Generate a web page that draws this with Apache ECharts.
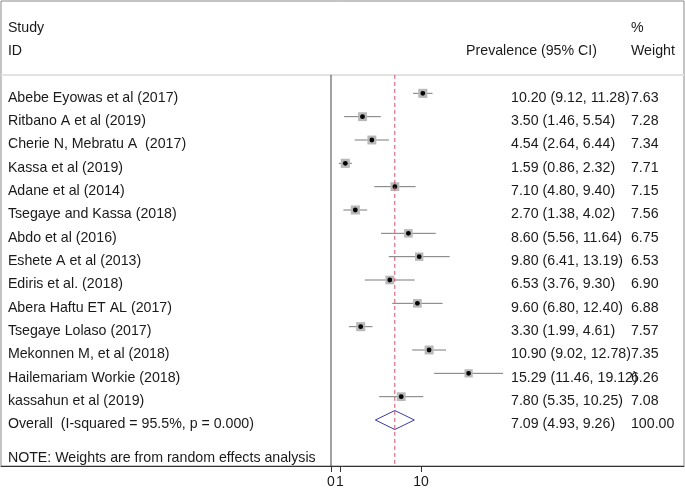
<!DOCTYPE html>
<html><head><meta charset="utf-8">
<script src="https://cdn.jsdelivr.net/npm/echarts@6/dist/echarts.min.js"></script>
<style>html,body{margin:0;padding:0;background:#fff}#c{width:685px;height:491px}</style>
</head><body><div id="c"></div>
<script>
// ---- data ----
const studies = [
  'Abebe Eyowas et al (2017)',
  'Ritbano A et al (2019)',
  'Cherie N, Mebratu A  (2017)',
  'Kassa et al (2019)',
  'Adane et al (2014)',
  'Tsegaye and Kassa (2018)',
  'Abdo et al (2016)',
  'Eshete A et al (2013)',
  'Ediris et al. (2018)',
  'Abera Haftu ET AL (2017)',
  'Tsegaye Lolaso (2017)',
  'Mekonnen M, et al (2018)',
  'Hailemariam Workie (2018)',
  'kassahun et al (2019)'
];
const estimates = [10.20, 3.50, 4.54, 1.59, 7.10, 2.70, 8.60, 9.80, 6.53, 9.60, 3.30, 10.90, 15.29, 7.80];
const lowerCI   = [9.12, 1.46, 2.64, 0.86, 4.80, 1.38, 5.56, 6.41, 3.76, 6.80, 1.99, 9.02, 11.46, 5.35];
const upperCI   = [11.28, 5.54, 6.44, 2.32, 9.40, 4.02, 11.64, 13.19, 9.30, 12.40, 4.61, 12.78, 19.12, 10.25];
const weights   = [7.63, 7.28, 7.34, 7.71, 7.15, 7.56, 6.75, 6.53, 6.90, 6.88, 7.57, 7.35, 6.26, 7.08];
const overallLabel = 'Overall  (I-squared = 95.5%, p = 0.000)';
const overallEst = 7.09, overallLower = 4.93, overallUpper = 9.26, overallWeight = 100.00;
const xTickValues = [0, 1, 10];
const headerStudy = ['Study', 'ID'];
const headerCI = 'Prevalence (95% CI)';
const headerWeight = ['%', 'Weight'];
const noteText = 'NOTE: Weights are from random effects analysis';

// ---- layout constants (style) ----
const FAMILY = '"Liberation Sans", Arial, Helvetica, sans-serif';
const FONT = '14.2px ' + FAMILY;
const TXT = '#1a1a1a';
const XMIN = -36.667, XMAX = 39.222;
const YMIN = -3.957, YMAX = 15.971;
const COL_STUDY = -35.9, COL_CI = 20.0, COL_W = 33.33, COL_CI_HEAD_RIGHT = 29.55;
const HEAD_LINE_Y = -0.79;
const TEXT_DY = 4.5;

const fmt = v => v.toFixed(2);
const texts = [];
texts.push({x: COL_STUDY, y: -3, t: headerStudy[0], a: 'left'});
texts.push({x: COL_STUDY, y: -2, t: headerStudy[1], a: 'left'});
texts.push({x: COL_CI_HEAD_RIGHT, y: -2, t: headerCI, a: 'right'});
texts.push({x: COL_W, y: -3, t: headerWeight[0], a: 'left'});
texts.push({x: COL_W, y: -2, t: headerWeight[1], a: 'left'});
studies.forEach((s, i) => {
  texts.push({x: COL_STUDY, y: i, t: s, a: 'left'});
  texts.push({x: COL_CI, y: i, t: fmt(estimates[i]) + ' (' + fmt(lowerCI[i]) + ', ' + fmt(upperCI[i]) + ')', a: 'left'});
  texts.push({x: COL_W, y: i, t: fmt(weights[i]), a: 'left'});
});
const ov = studies.length;
texts.push({x: COL_STUDY, y: ov, t: overallLabel, a: 'left'});
texts.push({x: COL_CI, y: ov, t: fmt(overallEst) + ' (' + fmt(overallLower) + ', ' + fmt(overallUpper) + ')', a: 'left'});
texts.push({x: COL_W, y: ov, t: fmt(overallWeight), a: 'left'});
texts.push({x: COL_STUDY, y: 15.45, t: noteText, a: 'left'});

const chart = echarts.init(document.getElementById('c'));
chart.setOption({
  animation: false,
  grid: {left: 1, right: 1, top: 1, bottom: 25, show: true, borderColor: '#888', borderWidth: 1, containLabel: false},
  xAxis: {
    type: 'value', min: XMIN, max: XMAX,
    splitLine: {show: false},
    axisLine: {show: true, onZero: false, lineStyle: {color: '#333', width: 1}},
    axisTick: {show: true, customValues: xTickValues, length: 6, lineStyle: {color: '#333'}},
    axisLabel: {show: true, customValues: xTickValues, color: TXT, fontSize: 14, fontFamily: FAMILY, margin: 9, hideOverlap: false, formatter: v => String(v)}
  },
  yAxis: {type: 'value', inverse: true, min: YMIN, max: YMAX, show: false, splitLine: {show: false}},
  series: [
    { // header separator
      type: 'line', symbol: 'none', silent: true,
      data: [[XMIN, HEAD_LINE_Y], [XMAX, HEAD_LINE_Y]],
      lineStyle: {color: '#e2e2e2', width: 2}
    },
    { // null line at 0
      type: 'line', symbol: 'none', silent: true,
      data: [[0, HEAD_LINE_Y], [0, YMAX]],
      lineStyle: {color: '#444', width: 1}
    },
    { // overall estimate dashed line
      type: 'line', symbol: 'none', silent: true,
      data: [[overallEst, HEAD_LINE_Y], [overallEst, YMAX]],
      lineStyle: {color: '#d0506a', width: 1, type: [4, 3]}
    },
    { // study CIs and markers
      type: 'custom', silent: true,
      data: studies.map((s, i) => [estimates[i], i, lowerCI[i], upperCI[i], weights[i]]),
      renderItem(params, api) {
        const e = api.value(0), y = api.value(1), lo = api.value(2), hi = api.value(3), w = api.value(4);
        const p = api.coord([e, y]), a = api.coord([lo, y]), b = api.coord([hi, y]);
        const s = 9 * Math.sqrt(w / 7.5);
        return {type: 'group', children: [
          {type: 'line', shape: {x1: a[0], y1: a[1], x2: b[0], y2: b[1]}, style: {stroke: '#7a7a7a', lineWidth: 1}},
          {type: 'rect', shape: {x: p[0] - s / 2, y: p[1] - s / 2, width: s, height: s}, style: {fill: '#b8b8b8'}},
          {type: 'circle', shape: {cx: p[0], cy: p[1], r: 2.4}, style: {fill: '#000'}}
        ]};
      }
    },
    { // overall diamond
      type: 'custom', silent: true,
      data: [[overallEst, ov, overallLower, overallUpper]],
      renderItem(params, api) {
        const e = api.value(0), y = api.value(1), lo = api.value(2), hi = api.value(3);
        const p = api.coord([e, y]), a = api.coord([lo, y]), b = api.coord([hi, y]);
        const h = 9.5;
        return {type: 'polygon', shape: {points: [[a[0], a[1]], [p[0], p[1] - h], [b[0], b[1]], [p[0], p[1] + h]]},
          style: {fill: 'none', stroke: '#3a3aaa', lineWidth: 1}};
      }
    },
    { // text columns
      type: 'custom', silent: true,
      data: texts.map(t => [t.x, t.y]),
      renderItem(params, api) {
        const t = texts[params.dataIndex];
        const p = api.coord([api.value(0), api.value(1)]);
        return {type: 'text', x: p[0], y: p[1] + TEXT_DY,
          style: {text: t.t, textAlign: t.a, textVerticalAlign: 'middle', font: FONT, fill: TXT}};
      }
    }
  ]
});
</script></body></html>
